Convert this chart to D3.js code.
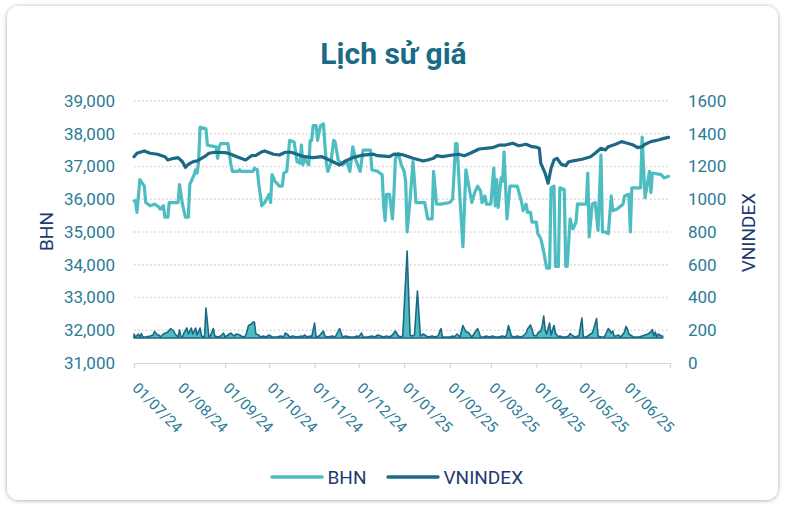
<!DOCTYPE html>
<html>
<head>
<meta charset="utf-8">
<script src="https://cdn.jsdelivr.net/npm/d3@7"></script>
<style>
  html, body { margin: 0; padding: 0; background: #ffffff; }
  svg { display: block; font-family: Roboto, "Noto Sans", sans-serif; }
</style>
</head>
<body>
<svg id="chart" width="785" height="506"></svg>
<script>
// ---- data ----
const BHN_DATES = [
  "2024-07-01","2024-07-02","2024-07-03","2024-07-05","2024-07-08","2024-07-09","2024-07-12","2024-07-15","2024-07-17","2024-07-19",
  "2024-07-21","2024-07-22","2024-07-24","2024-07-25","2024-07-31",
  "2024-08-01","2024-08-03","2024-08-05","2024-08-07","2024-08-08","2024-08-11","2024-08-12","2024-08-13","2024-08-14","2024-08-15",
  "2024-08-19","2024-08-20","2024-08-26","2024-08-27","2024-08-28","2024-08-29",
  "2024-09-03","2024-09-05","2024-09-06","2024-09-10","2024-09-11","2024-09-12","2024-09-20","2024-09-21","2024-09-23","2024-09-24",
  "2024-09-26","2024-09-28",
  "2024-10-01","2024-10-02","2024-10-03","2024-10-05","2024-10-08","2024-10-10","2024-10-11","2024-10-13","2024-10-15","2024-10-18",
  "2024-10-20","2024-10-22","2024-10-23","2024-10-24","2024-10-25","2024-10-28","2024-10-29","2024-10-30","2024-10-31",
  "2024-11-02","2024-11-03","2024-11-05","2024-11-07","2024-11-08","2024-11-09","2024-11-10","2024-11-12","2024-11-14","2024-11-15",
  "2024-11-17","2024-11-20","2024-11-23","2024-11-25","2024-11-27","2024-11-29",
  "2024-12-02","2024-12-04","2024-12-09","2024-12-10","2024-12-14","2024-12-17","2024-12-18","2024-12-19","2024-12-20","2024-12-22",
  "2024-12-24","2024-12-25","2024-12-26","2024-12-28","2024-12-30",
  "2025-01-01","2025-01-02","2025-01-03","2025-01-05","2025-01-07","2025-01-08","2025-01-09","2025-01-15","2025-01-17","2025-01-20",
  "2025-01-21","2025-01-23","2025-01-26",
  "2025-02-01","2025-02-03","2025-02-05","2025-02-06","2025-02-08","2025-02-10","2025-02-12","2025-02-15","2025-02-16","2025-02-18",
  "2025-02-20","2025-02-22","2025-02-23","2025-02-25","2025-02-26",
  "2025-03-01","2025-03-03","2025-03-04","2025-03-05","2025-03-06","2025-03-08","2025-03-09","2025-03-10","2025-03-12","2025-03-14",
  "2025-03-19","2025-03-22","2025-03-23","2025-03-25","2025-03-26","2025-03-28","2025-03-29",
  "2025-04-01","2025-04-02","2025-04-04","2025-04-06","2025-04-08","2025-04-10","2025-04-11","2025-04-13","2025-04-14","2025-04-16",
  "2025-04-17","2025-04-20","2025-04-21","2025-04-22","2025-04-24","2025-04-25","2025-04-26","2025-04-28","2025-04-29",
  "2025-05-05","2025-05-06","2025-05-07","2025-05-09","2025-05-11","2025-05-13","2025-05-15","2025-05-16","2025-05-18","2025-05-20",
  "2025-05-22","2025-05-23","2025-05-26","2025-05-30","2025-05-31",
  "2025-06-03","2025-06-04","2025-06-05","2025-06-11","2025-06-12","2025-06-14","2025-06-17","2025-06-18","2025-06-19","2025-06-25",
  "2025-06-27","2025-06-30"
];
const BHN_PRICE = [
  35950,35950,35600,36600,36400,35900,35800,35850,35800,35700,
  35800,35450,35450,35900,35900,
  36450,35850,35450,35450,36450,36750,36900,36800,37150,38200,
  38150,37650,37600,37250,37600,37700,
  37700,37050,36850,36850,36900,36850,36850,36950,36900,36450,
  35800,35900,
  36150,35900,36750,36550,36400,36400,36800,36850,37800,37750,
  37150,37100,37650,37050,37250,37050,37800,37800,38250,
  38250,37800,38250,38300,37650,37100,36850,37100,37800,37750,
  37200,37050,37150,36850,37600,37200,
  36850,37500,37500,36900,36850,36750,35800,35350,36150,36150,
  35400,36150,37250,37400,37050,
  36850,36550,35000,36000,37150,36550,35900,35900,35400,35400,
  36850,35850,35850,
  35900,36000,37700,37700,36000,34550,36900,36150,35900,36200,
  36400,36250,35900,36100,35850,
  35850,36950,35800,36600,35750,36650,36550,37450,35400,36400,
  36400,35900,35650,35850,35600,35600,35300,
  35300,34950,34800,34400,33900,33900,36350,36400,33950,33950,
  36350,36300,33950,33950,35400,35200,35100,35300,35850,
  35850,36800,34850,35850,35900,35050,37350,35000,35000,34950,
  36100,35650,35700,35850,36100,
  36150,35000,36350,36350,37900,36050,36850,36200,36800,36750,
  36650,36700
];

const VNI_DATES = [
  "2024-07-01","2024-07-03","2024-07-08","2024-07-12","2024-07-17","2024-07-22","2024-07-24","2024-07-28","2024-07-31",
  "2024-08-03","2024-08-05","2024-08-07","2024-08-10","2024-08-13","2024-08-18","2024-08-21","2024-08-25",
  "2024-09-01","2024-09-05","2024-09-09","2024-09-15","2024-09-19","2024-09-22","2024-09-26","2024-09-28",
  "2024-10-04","2024-10-08","2024-10-12","2024-10-16","2024-10-20","2024-10-25","2024-10-31",
  "2024-11-06","2024-11-11","2024-11-18","2024-11-22","2024-11-27",
  "2024-12-04","2024-12-11","2024-12-14","2024-12-22","2024-12-25","2024-12-31",
  "2025-01-04","2025-01-07","2025-01-14","2025-01-17","2025-01-21","2025-01-23","2025-01-27",
  "2025-02-03","2025-02-07","2025-02-11","2025-02-15","2025-02-21",
  "2025-03-02","2025-03-07","2025-03-11","2025-03-16","2025-03-20","2025-03-25","2025-03-29",
  "2025-04-01","2025-04-03","2025-04-04","2025-04-07","2025-04-09","2025-04-11","2025-04-13","2025-04-15","2025-04-18",
  "2025-04-21","2025-04-23","2025-04-26",
  "2025-05-02","2025-05-08","2025-05-11","2025-05-15","2025-05-18","2025-05-20","2025-05-25","2025-05-29",
  "2025-06-02","2025-06-06","2025-06-09","2025-06-12","2025-06-14","2025-06-18","2025-06-23","2025-06-27","2025-06-30"
];
const VNI_VALUE = [
  1260,1281,1295,1281,1275,1260,1240,1250,1254,
  1229,1195,1213,1229,1234,1260,1281,1287,
  1285,1275,1260,1240,1266,1268,1290,1295,
  1275,1270,1287,1287,1275,1260,1254,
  1260,1240,1209,1234,1254,
  1270,1275,1266,1260,1275,1272,
  1260,1250,1234,1240,1250,1266,1260,
  1270,1275,1266,1281,1307,
  1315,1331,1331,1342,1327,1336,1321,
  1318,1311,1220,1158,1098,1189,1240,1250,1213,
  1205,1229,1234,
  1244,1260,1281,1311,1301,1321,1336,1352,
  1342,1331,1315,1321,1336,1352,1362,1372,1378
];

// BHN traded volume (unlabelled, own hidden scale)
const VOL_DATES = [
  "2024-07-01","2024-07-02","2024-07-04","2024-07-05","2024-07-06","2024-07-07","2024-07-09","2024-07-12","2024-07-14","2024-07-15",
  "2024-07-17","2024-07-18","2024-07-19","2024-07-21","2024-07-24","2024-07-26","2024-07-28","2024-07-29","2024-07-31",
  "2024-08-01","2024-08-02","2024-08-03","2024-08-04","2024-08-06","2024-08-07","2024-08-09","2024-08-10","2024-08-12","2024-08-13",
  "2024-08-15","2024-08-16","2024-08-18","2024-08-19","2024-08-21","2024-08-22","2024-08-24","2024-08-25","2024-08-27","2024-08-29",
  "2024-08-31",
  "2024-09-01","2024-09-03","2024-09-05","2024-09-07","2024-09-09","2024-09-11","2024-09-13","2024-09-15","2024-09-17","2024-09-19",
  "2024-09-20","2024-09-21","2024-09-22","2024-09-24","2024-09-25","2024-09-27","2024-09-29",
  "2024-10-01","2024-10-03","2024-10-06","2024-10-09","2024-10-11","2024-10-12","2024-10-14","2024-10-15","2024-10-17","2024-10-20",
  "2024-10-23","2024-10-24","2024-10-25","2024-10-27","2024-10-29","2024-10-30",
  "2024-11-01","2024-11-02","2024-11-04","2024-11-07","2024-11-08","2024-11-10","2024-11-13","2024-11-15","2024-11-18","2024-11-20",
  "2024-11-22","2024-11-25","2024-11-28","2024-11-30",
  "2024-12-01","2024-12-03","2024-12-04","2024-12-07","2024-12-10","2024-12-12","2024-12-14","2024-12-16","2024-12-18","2024-12-20",
  "2024-12-22","2024-12-24","2024-12-26","2024-12-28","2024-12-30","2024-12-31",
  "2025-01-03","2025-01-05","2025-01-06","2025-01-08","2025-01-10","2025-01-12","2025-01-14","2025-01-15","2025-01-17","2025-01-20",
  "2025-01-22","2025-01-24","2025-01-26","2025-01-27","2025-01-29",
  "2025-02-01","2025-02-03","2025-02-04","2025-02-06","2025-02-08","2025-02-10","2025-02-12","2025-02-13","2025-02-14","2025-02-16",
  "2025-02-17","2025-02-20","2025-02-22","2025-02-24","2025-02-26","2025-02-28",
  "2025-03-02","2025-03-04","2025-03-06","2025-03-09","2025-03-11","2025-03-12","2025-03-13","2025-03-15","2025-03-17","2025-03-19",
  "2025-03-21","2025-03-23","2025-03-25","2025-03-26","2025-03-28","2025-03-29","2025-03-30",
  "2025-04-01","2025-04-02","2025-04-04","2025-04-05","2025-04-06","2025-04-07","2025-04-08","2025-04-10","2025-04-11","2025-04-12",
  "2025-04-13","2025-04-14","2025-04-16","2025-04-17","2025-04-19","2025-04-21","2025-04-23","2025-04-24","2025-04-26","2025-04-28",
  "2025-04-29","2025-04-30",
  "2025-05-02","2025-05-03","2025-05-05","2025-05-07","2025-05-09","2025-05-10","2025-05-12","2025-05-13","2025-05-15","2025-05-17",
  "2025-05-18","2025-05-20","2025-05-22","2025-05-23","2025-05-24","2025-05-25","2025-05-27","2025-05-28","2025-05-29","2025-05-31",
  "2025-06-01","2025-06-02","2025-06-03","2025-06-05","2025-06-06","2025-06-08","2025-06-10","2025-06-12","2025-06-14","2025-06-16",
  "2025-06-18","2025-06-19","2025-06-20","2025-06-21","2025-06-22","2025-06-23","2025-06-25","2025-06-26"
];
const VOL_VALUE = [
  8,2,8,2,9,2,2,4,6,13,
  6,6,2,8,12,19,14,8,2,
  16,2,2,10,20,8,20,8,20,6,
  20,4,2,60,2,4,19,4,2,4,
  10,
  2,6,10,4,8,6,2,4,25,28,
  32,32,8,6,2,4,2,
  6,2,2,4,2,10,6,2,4,2,
  4,2,6,2,4,2,
  30,2,4,14,4,2,4,2,19,2,
  4,2,2,4,
  2,10,2,2,4,2,6,4,2,4,
  2,6,14,4,2,4,
  174,6,4,6,94,4,8,6,2,4,
  2,4,19,2,2,
  2,4,2,8,2,25,12,12,10,2,
  6,19,2,2,4,2,
  4,2,2,4,2,9,25,4,2,4,
  2,4,10,18,26,18,6,
  4,10,14,24,44,16,8,30,6,16,
  25,10,2,4,2,2,4,9,4,2,
  4,4,
  40,2,2,6,10,18,39,4,2,2,
  6,19,10,14,4,4,6,2,4,12,
  23,18,8,4,2,2,2,4,6,8,
  12,17,4,12,2,8,4,4
];

const LEFT_TICKS = [31000, 32000, 33000, 34000, 35000, 36000, 37000, 38000, 39000];
const RIGHT_TICKS = [0, 200, 400, 600, 800, 1000, 1200, 1400, 1600];
const X_START = "2024-07-01";
const X_END = "2025-07-01";

const TITLE = "Lịch sử giá";
const SERIES = [
  { name: "BHN", color: "#4dbdc2" },
  { name: "VNINDEX", color: "#1b6985" }
];

// ---- layout ----
const width = 785;
const height = 506;
const margin = { top: 101, right: 115, bottom: 143, left: 134 };
const innerW = width - margin.left - margin.right;
const innerH = height - margin.top - margin.bottom;

const parse = d3.timeParse("%Y-%m-%d");
const bhn = BHN_DATES.map((d, i) => ({ date: parse(d), value: BHN_PRICE[i] }));
const vni = VNI_DATES.map((d, i) => ({ date: parse(d), value: VNI_VALUE[i] }));
const vol = VOL_DATES.map((d, i) => ({ date: parse(d), value: VOL_VALUE[i] }));

const x = d3.scaleTime().domain([parse(X_START), parse(X_END)]).range([0, innerW]);
const yLeft = d3.scaleLinear().domain([31000, 39000]).range([innerH, 0]);
const yRight = d3.scaleLinear().domain([0, 1600]).range([innerH, 0]);
const yVol = d3.scaleLinear().domain([0, 200]).range([innerH - 25, innerH - 125]);

const svg = d3.select("#chart");

// card
const defs = svg.append("defs");
const shadow = defs.append("filter").attr("id", "shadow")
  .attr("x", "-5%").attr("y", "-5%").attr("width", "110%").attr("height", "110%");
shadow.append("feDropShadow").attr("dx", 0).attr("dy", 0.5)
  .attr("stdDeviation", 2.2).attr("flood-color", "#000").attr("flood-opacity", 0.35);

svg.append("rect")
  .attr("x", 7).attr("y", 6).attr("width", 771).attr("height", 494).attr("rx", 12)
  .attr("fill", "#ffffff").attr("filter", "url(#shadow)");

// title
svg.append("text")
  .attr("x", 393.5).attr("y", 63.5)
  .attr("text-anchor", "middle")
  .attr("font-size", 30).attr("font-weight", 700)
  .attr("fill", "#1b6b86")
  .text(TITLE);

const g = svg.append("g").attr("transform", `translate(${margin.left},${margin.top})`);

// grid lines
g.append("g")
  .selectAll("line")
  .data(LEFT_TICKS.slice(1))
  .enter()
  .append("line")
  .attr("x1", 0).attr("x2", innerW)
  .attr("y1", (d) => yLeft(d)).attr("y2", (d) => yLeft(d))
  .attr("stroke", "#d2d2d2")
  .attr("stroke-width", 1.5)
  .attr("stroke-dasharray", "1.5,2.5");

// left axis
g.append("g")
  .call(d3.axisLeft(yLeft).tickValues(LEFT_TICKS).tickSize(0).tickPadding(19).tickFormat(d3.format(",")))
  .call((a) => a.select(".domain").remove())
  .call((a) => a.selectAll("text")
    .attr("fill", "#2b7b96").attr("font-size", 17).attr("font-family", "Roboto, 'Noto Sans', sans-serif"));

// right axis
g.append("g")
  .attr("transform", `translate(${innerW},0)`)
  .call(d3.axisRight(yRight).tickValues(RIGHT_TICKS).tickSize(0).tickPadding(18).tickFormat(d3.format("d")))
  .call((a) => a.select(".domain").remove())
  .call((a) => a.selectAll("text")
    .attr("fill", "#2b7b96").attr("font-size", 17).attr("font-family", "Roboto, 'Noto Sans', sans-serif"));

// bottom axis
const monthTicks = d3.timeMonth.range(parse(X_START), d3.timeDay.offset(parse(X_END), 1));
const lastTick = monthTicks[monthTicks.length - 1];
g.append("g")
  .attr("transform", `translate(0,${innerH})`)
  .call(d3.axisBottom(x).tickValues(monthTicks).tickSize(5).tickSizeOuter(0)
    .tickFormat((d) => (+d === +lastTick ? "" : d3.timeFormat("%d/%m/%y")(d))))
  .call((a) => a.selectAll(".domain, line").attr("stroke", "#d6d6d6").attr("stroke-width", 1.2))
  .call((a) => a.selectAll("text")
    .attr("fill", "#2b7b96").attr("font-size", 15).attr("font-family", "Roboto, 'Noto Sans', sans-serif")
    .attr("y", 0).attr("dy", 0).attr("text-anchor", "start")
    .attr("transform", "translate(-3,26) rotate(45)"));

// axis titles
svg.append("text")
  .attr("transform", "translate(52.5,231.5) rotate(-90)")
  .attr("text-anchor", "middle")
  .attr("font-size", 19).attr("fill", "#1e3a6f")
  .text("BHN");
svg.append("text")
  .attr("transform", "translate(755,232.5) rotate(-90)")
  .attr("text-anchor", "middle")
  .attr("font-size", 19).attr("fill", "#1e3a6f")
  .text("VNINDEX");

// volume area
const volArea = d3.area()
  .x((d) => x(d.date))
  .y0(yVol(0))
  .y1((d) => yVol(d.value));
g.append("path")
  .datum(vol)
  .attr("d", (d) => volArea(d) + "Z")
  .attr("fill", "#4dbdc2")
  .attr("stroke", "#1b6985")
  .attr("stroke-width", 1.6)
  .attr("stroke-linejoin", "round");

// price lines
const bhnLine = d3.line().x((d) => x(d.date)).y((d) => yLeft(d.value));
const vniLine = d3.line().x((d) => x(d.date)).y((d) => yRight(d.value));

g.append("path")
  .datum(bhn)
  .attr("d", bhnLine)
  .attr("fill", "none")
  .attr("stroke", SERIES[0].color)
  .attr("stroke-width", 3.2)
  .attr("stroke-linejoin", "round")
  .attr("stroke-linecap", "round");

g.append("path")
  .datum(vni)
  .attr("d", vniLine)
  .attr("fill", "none")
  .attr("stroke", SERIES[1].color)
  .attr("stroke-width", 3.2)
  .attr("stroke-linejoin", "round")
  .attr("stroke-linecap", "round");

// legend
const legend = svg.append("g").attr("transform", "translate(272,477)");
const legendX = [0, 116];
SERIES.forEach((s, i) => {
  const item = legend.append("g").attr("transform", `translate(${legendX[i]},0)`);
  item.append("line")
    .attr("x1", 0).attr("x2", 50).attr("y1", 0).attr("y2", 0)
    .attr("stroke", s.color).attr("stroke-width", 3.4).attr("stroke-linecap", "round");
  item.append("text")
    .attr("x", 55.5).attr("y", 0).attr("dy", "0.35em")
    .attr("font-size", 19).attr("fill", "#1e3a6f")
    .text(s.name);
});
</script>
</body>
</html>
